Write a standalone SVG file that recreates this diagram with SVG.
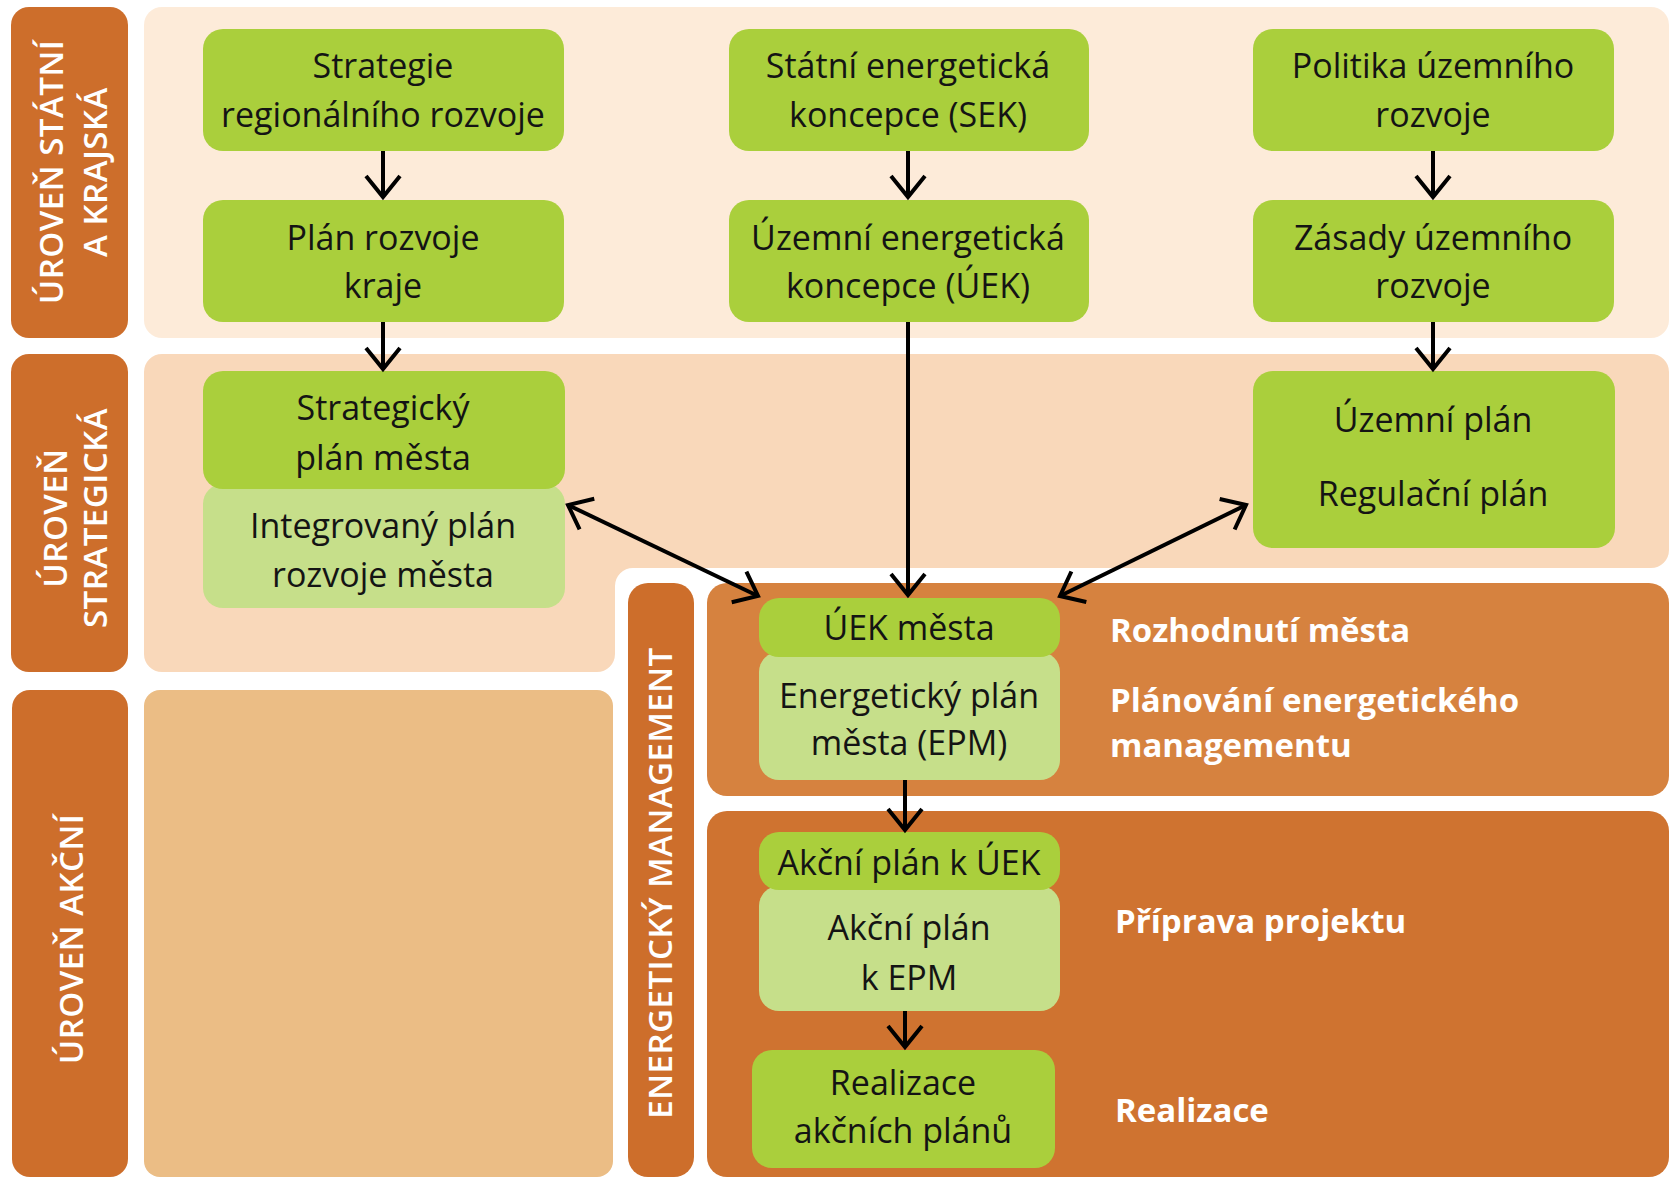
<svg xmlns="http://www.w3.org/2000/svg" width="1673" height="1178" viewBox="0 0 1673 1178">
<defs>
<style>
.bar{fill:#cd6e2b}
.vt{font-family:"Open Sans","Noto Sans",sans-serif;font-size:33px;font-weight:600;fill:#ffffff;text-anchor:middle;letter-spacing:0.5px}
.ng{fill:#aacf3c}
.nl{fill:#c6df8a}
.nt{font-family:"Open Sans","Noto Sans",sans-serif;font-size:34px;fill:#141414;text-anchor:middle}
.wt{font-family:"Open Sans","Noto Sans",sans-serif;font-size:33px;font-weight:700;fill:#ffffff}
.cn{stroke:#000;stroke-width:4;fill:none}
</style>
<marker id="ah" viewBox="-24 -19 28 38" markerUnits="userSpaceOnUse" markerWidth="28" markerHeight="38" refX="0" refY="0" orient="auto-start-reverse">
<path d="M-21,-17 L0,0 L-21,17" fill="none" stroke="#000" stroke-width="4" stroke-linejoin="miter"/>
</marker>
</defs>
<rect width="1673" height="1178" fill="#ffffff"/>

<g id="panels">
<rect x="144" y="7" width="1525" height="331" rx="18" fill="#fdebd9"/>
<path d="M162,354 H1651 A18,18 0 0 1 1669,372 V550 A18,18 0 0 1 1651,568 H633 A18,18 0 0 0 615,586 V654 A18,18 0 0 1 597,672 H162 A18,18 0 0 1 144,654 V372 A18,18 0 0 1 162,354 Z" fill="#f9d8ba"/>
<rect x="144" y="690" width="469" height="487" rx="16" fill="#ebbd85"/>
<rect x="707" y="583" width="962" height="213" rx="20" fill="#d6823f"/>
<rect x="707" y="811" width="962" height="366" rx="20" fill="#cf7330"/>
</g>

<g id="bar-statni">
<rect class="bar" x="11" y="7" width="117" height="331" rx="18"/>
<g transform="translate(0,172) rotate(-90)">
<text class="vt" x="0" y="63">ÚROVEŇ STÁTNÍ</text>
<text class="vt" x="0" y="107">A KRAJSKÁ</text>
</g>
</g>
<g id="bar-strategicka">
<rect class="bar" x="11" y="354" width="117" height="318" rx="18"/>
<g transform="translate(0,518) rotate(-90)">
<text class="vt" x="0" y="67">ÚROVEŇ</text>
<text class="vt" x="0" y="107">STRATEGICKÁ</text>
</g>
</g>
<g id="bar-akcni">
<rect class="bar" x="12" y="690" width="116" height="487" rx="18"/>
<g transform="translate(0,939) rotate(-90)">
<text class="vt" x="0" y="83">ÚROVEŇ AKČNÍ</text>
</g>
</g>
<g id="bar-em">
<rect class="bar" x="628" y="583" width="66" height="594" rx="20"/>
<g transform="translate(0,883) rotate(-90)">
<text class="vt" x="0" y="672">ENERGETICKÝ MANAGEMENT</text>
</g>
</g>

<g id="n-strategie">
<rect class="ng" x="203" y="29" width="361" height="122" rx="20"/>
<text class="nt" x="383" y="78">Strategie</text>
<text class="nt" x="383" y="127">regionálního rozvoje</text>
</g>
<g id="n-plan-kraje">
<rect class="ng" x="203" y="200" width="361" height="122" rx="20"/>
<text class="nt" x="383" y="250">Plán rozvoje</text>
<text class="nt" x="383" y="298">kraje</text>
</g>
<g id="n-sek">
<rect class="ng" x="729" y="29" width="360" height="122" rx="20"/>
<text class="nt" x="908" y="78">Státní energetická</text>
<text class="nt" x="908" y="127">koncepce (SEK)</text>
</g>
<g id="n-uek">
<rect class="ng" x="729" y="200" width="360" height="122" rx="20"/>
<text class="nt" x="908" y="250">Územní energetická</text>
<text class="nt" x="908" y="298">koncepce (ÚEK)</text>
</g>
<g id="n-politika">
<rect class="ng" x="1253" y="29" width="361" height="122" rx="20"/>
<text class="nt" x="1433" y="78">Politika územního</text>
<text class="nt" x="1433" y="127">rozvoje</text>
</g>
<g id="n-zasady">
<rect class="ng" x="1253" y="200" width="361" height="122" rx="20"/>
<text class="nt" x="1433" y="250">Zásady územního</text>
<text class="nt" x="1433" y="298">rozvoje</text>
</g>
<g id="n-integrovany">
<rect class="nl" x="203" y="484" width="362" height="124" rx="20"/>
<text class="nt" x="383" y="538">Integrovaný plán</text>
<text class="nt" x="383" y="587">rozvoje města</text>
</g>
<g id="n-strategicky">
<rect class="ng" x="203" y="371" width="362" height="118" rx="20"/>
<text class="nt" x="383" y="420">Strategický</text>
<text class="nt" x="383" y="470">plán města</text>
</g>
<g id="n-uzemni-plan">
<rect class="ng" x="1253" y="371" width="362" height="177" rx="20"/>
<text class="nt" x="1433" y="432">Územní plán</text>
<text class="nt" x="1433" y="506">Regulační plán</text>
</g>
<g id="n-epm">
<rect class="nl" x="759" y="652" width="301" height="128" rx="20"/>
<text class="nt" x="909" y="708">Energetický plán</text>
<text class="nt" x="909" y="755">města (EPM)</text>
</g>
<g id="n-uek-mesta">
<rect class="ng" x="759" y="598" width="301" height="59" rx="20"/>
<text class="nt" x="909" y="640">ÚEK města</text>
</g>
<g id="n-ap-epm">
<rect class="nl" x="759" y="886" width="301" height="125" rx="20"/>
<text class="nt" x="909" y="940">Akční plán</text>
<text class="nt" x="909" y="990">k EPM</text>
</g>
<g id="n-ap-uek">
<rect class="ng" x="759" y="832" width="301" height="58" rx="20"/>
<text class="nt" x="909" y="875">Akční plán k ÚEK</text>
</g>
<g id="n-realizace">
<rect class="ng" x="752" y="1050" width="303" height="118" rx="20"/>
<text class="nt" x="903" y="1095">Realizace</text>
<text class="nt" x="903" y="1143">akčních plánů</text>
</g>

<g id="labels">
<text class="wt" x="1110" y="642">Rozhodnutí města</text>
<text class="wt" x="1110" y="712">Plánování energetického</text>
<text class="wt" x="1110" y="757">managementu</text>
<text class="wt" x="1115" y="933">Příprava projektu</text>
<text class="wt" x="1115" y="1122">Realizace</text>
</g>

<g id="connectors">
<line class="cn" x1="383" y1="151" x2="383" y2="197" marker-end="url(#ah)"/>
<line class="cn" x1="383" y1="322" x2="383" y2="369" marker-end="url(#ah)"/>
<line class="cn" x1="908" y1="151" x2="908" y2="197" marker-end="url(#ah)"/>
<line class="cn" x1="908" y1="322" x2="908" y2="595" marker-end="url(#ah)"/>
<line class="cn" x1="1433" y1="151" x2="1433" y2="197" marker-end="url(#ah)"/>
<line class="cn" x1="1433" y1="322" x2="1433" y2="369" marker-end="url(#ah)"/>
<line class="cn" x1="568" y1="505" x2="758" y2="596" marker-start="url(#ah)" marker-end="url(#ah)"/>
<line class="cn" x1="1246" y1="505" x2="1060" y2="596" marker-start="url(#ah)" marker-end="url(#ah)"/>
<line class="cn" x1="905" y1="780" x2="905" y2="830" marker-end="url(#ah)"/>
<line class="cn" x1="905" y1="1011" x2="905" y2="1047" marker-end="url(#ah)"/>
</g>
</svg>
